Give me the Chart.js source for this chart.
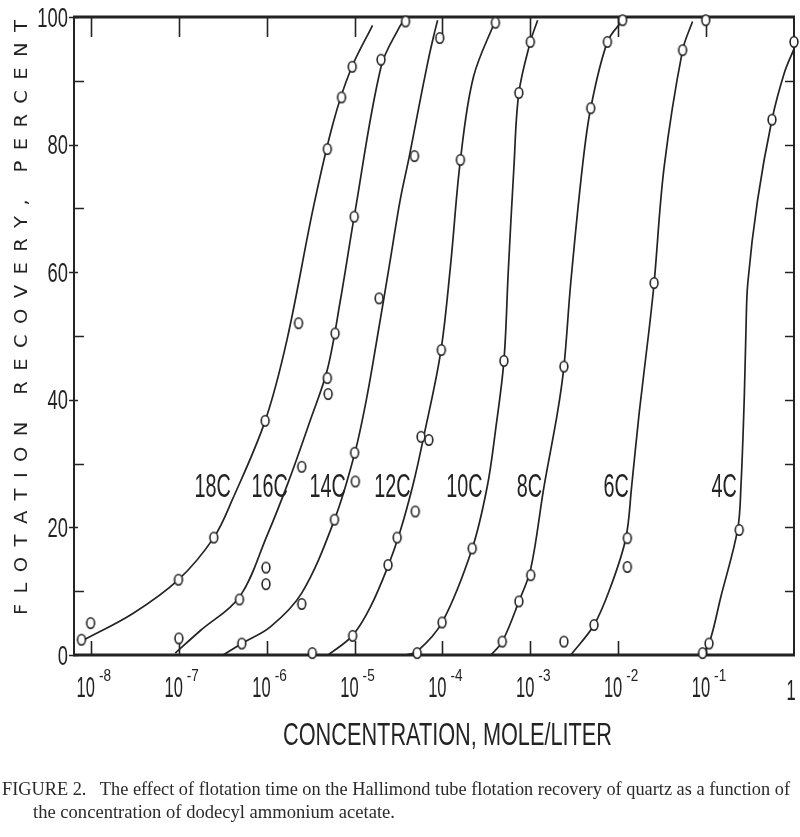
<!DOCTYPE html>
<html>
<head>
<meta charset="utf-8">
<script src="https://cdn.jsdelivr.net/npm/chart.js@4.4.1/dist/chart.umd.min.js"></script>
<style>
  html, body { margin: 0; padding: 0; background: #fff; }
  #wrap { position: relative; width: 800px; height: 837px; overflow: hidden; background: #fff; }
  #chart { position: absolute; left: 0; top: 0; }
  .cap { position: absolute; font-family: "Liberation Serif", "DejaVu Serif", serif; font-size: 19px; line-height: 19px; color: #2a2a2a; white-space: pre; transform-origin: 0 0; }
</style>
</head>
<body>
<div id="wrap">
  <canvas id="chart" width="800" height="837"></canvas>
  <div class="cap" id="cap1" style="left:2px; top:779px;">FIGURE 2.   The effect of flotation time on the Hallimond tube flotation recovery of quartz as a function of</div>
  <div class="cap" id="cap2" style="left:33px; top:802px;">the concentration of dodecyl ammonium acetate.</div>
</div>
<script>
(function() {
	'use strict';

	// Series labels (carbon chain length of the amine)
	const seriesNames = ['18C', '16C', '14C', '12C', '10C', '8C', '6C', '4C'];

	// Measured points: [concentration mole/liter, recovery %]
	const pts18C = [[7.8e-9, 2.4], [9.9e-9, 5.0], [9.9e-8, 11.8], [2.5e-7, 18.4], [9.6e-7, 36.7], [2.3e-6, 52.0], [4.9e-6, 79.3], [7.1e-6, 87.4], [9.4e-6, 92.2]];
	const pts16C = [[1.0e-7, 2.6], [4.9e-7, 8.7], [9.8e-7, 13.7], [9.8e-7, 11.1], [2.5e-6, 29.5], [4.9e-6, 43.4], [5.0e-6, 40.9], [6.0e-6, 50.4], [9.9e-6, 68.7], [2.0e-5, 93.3], [3.8e-5, 99.3]];
	const pts14C = [[5.2e-7, 1.8], [2.5e-6, 8.0], [5.9e-6, 21.2], [1.0e-5, 31.7], [1.02e-5, 27.2], [1.9e-5, 55.9], [4.8e-5, 78.2], [9.3e-5, 96.7]];
	const pts12C = [[3.3e-6, 0.3], [9.5e-6, 3.0], [2.4e-5, 14.1], [3.05e-5, 18.4], [4.9e-5, 22.5], [5.7e-5, 34.2], [7.0e-5, 33.7], [9.7e-5, 47.8], [1.6e-4, 77.6], [4.0e-4, 99.1]];
	const pts10C = [[5.15e-5, 0.3], [9.9e-5, 5.1], [2.18e-4, 16.7], [5.0e-4, 46.1], [7.4e-4, 88.1], [1.0e-3, 96.1]];
	const pts8C = [[4.79e-4, 2.1], [7.41e-4, 8.4], [1.01e-3, 12.5], [2.41e-3, 45.2], [4.86e-3, 85.7], [7.53e-3, 96.1], [1.12e-2, 99.5]];
	const pts6C = [[2.41e-3, 2.1], [5.3e-3, 4.7], [1.27e-2, 18.3], [1.27e-2, 13.8], [2.56e-2, 58.3], [5.4e-2, 94.8], [9.9e-2, 99.5]];
	const pts4C = [[9.1e-2, 0.3], [0.108, 1.8], [0.238, 19.6], [0.561, 83.9], [1.0, 96.1]];

	// Hand-drawn curves: [concentration, recovery %]
	const fit18C = [[7.9e-9, 2.2], [3.0e-8, 6.5], [9.9e-8, 11.8], [2.5e-7, 18.4], [4.05e-7, 24.3], [9.6e-7, 36.7], [1.7e-6, 49.4], [3.4e-6, 70.2], [5.7e-6, 83.4], [9.0e-6, 91.7], [1.6e-5, 98.7]];
	const fit16C = [[9.1e-8, 0.3], [1.75e-7, 3.8], [4.9e-7, 9.1], [1.0e-6, 18.6], [1.76e-6, 27.1], [3.13e-6, 36.8], [4.89e-6, 44.7], [6.89e-6, 55.6], [9.9e-6, 68.7], [2.0e-5, 92.2], [3.2e-5, 98.3], [3.8e-5, 99.8]];
	const fit14C = [[3.2e-7, 0], [5.2e-7, 1.8], [1.1e-6, 4.4], [2.5e-6, 9.7], [5.9e-6, 21.2], [9.9e-6, 31.3], [1.36e-5, 40.0], [1.87e-5, 50.9], [2.49e-5, 61.1], [3.3e-5, 71.3], [4.2e-5, 78.2], [5.3e-5, 85.4], [6.8e-5, 92.9], [7.9e-5, 96.9], [8.8e-5, 99.5]];
	const fit12C = [[5.0e-6, 0], [9.4e-6, 3.0], [1.51e-5, 7.5], [2.43e-5, 14.1], [3.32e-5, 19.5], [4.68e-5, 27.0], [6.07e-5, 34.0], [9.5e-5, 47.3], [1.23e-4, 60.8], [1.6e-4, 77.6], [2.25e-4, 90.6], [4.0e-4, 99.5]];
	const fit10C = [[3.8e-5, 0], [5.2e-5, 0.6], [9.9e-5, 5.1], [2.18e-4, 16.7], [3.23e-4, 26.4], [4.02e-4, 35.3], [5.0e-4, 46.1], [5.6e-4, 60.0], [6.5e-4, 76.5], [7.4e-4, 88.1], [1.0e-3, 96.1], [1.21e-3, 99.5]];
	const fit8C = [[3.56e-4, 0], [4.79e-4, 2.1], [7.41e-4, 8.4], [1.01e-3, 13.5], [1.43e-3, 26.4], [2.03e-3, 37.9], [2.41e-3, 45.2], [2.88e-3, 58.3], [3.91e-3, 76.5], [4.86e-3, 85.7], [7.53e-3, 96.1], [1.12e-2, 99.5]];
	const fit6C = [[2.88e-3, 0], [5.3e-3, 4.7], [8.2e-3, 10.7], [1.22e-2, 18.3], [1.42e-2, 26.4], [1.73e-2, 37.9], [2.24e-2, 50.9], [2.56e-2, 58.3], [3.33e-2, 76.5], [5.4e-2, 94.8], [7.0e-2, 99.3]];
	const fit4C = [[8.7e-2, 0], [0.108, 1.8], [0.147, 9.1], [0.228, 19.6], [0.249, 26.4], [0.272, 40.5], [0.284, 50.9], [0.298, 58.3], [0.385, 71.3], [0.561, 83.9], [0.774, 91.2], [1.0, 95.0]];

	// Axis ticks
	const xDecades = [-8, -7, -6, -5, -4, -3, -2, -1];
	const yTickLabels = [0, 20, 40, 60, 80, 100];
	const yMinorTicks = [10, 30, 50, 70, 90];

	const allPts = [pts18C, pts16C, pts14C, pts12C, pts10C, pts8C, pts6C, pts4C];
	const allFits = [fit18C, fit16C, fit14C, fit12C, fit10C, fit8C, fit6C, fit4C];

	const ink = '#232323';

	// Curve labels placed in data units (concentration, %)
	const labelAnchors = [[2.43e-7, 26.6], [1.08e-6, 26.6], [4.93e-6, 26.6], [2.7e-5, 26.6], [1.78e-4, 26.6], [9.75e-4, 26.6], [9.48e-3, 26.6], [0.16, 26.6]];

	function ringImage() {
		const c = document.createElement('canvas');
		c.width = 12;
		c.height = 14;
		const g = c.getContext('2d');
		g.fillStyle = '#fff';
		g.strokeStyle = ink;
		g.lineWidth = 1.6;
		g.beginPath();
		g.ellipse(6, 7, 3.9, 5.2, 0, 0, Math.PI * 2);
		g.fill();
		g.stroke();
		return c;
	}

	function toXY(arr) {
		return arr.map(function(p) { return { x: p[0], y: p[1] }; });
	}

	// Draw text squeezed horizontally to mimic the narrow lettering
	function drawText(ctx, text, x, y, font, sx, align, baseline) {
		ctx.save();
		ctx.font = font;
		ctx.textBaseline = baseline || 'alphabetic';
		ctx.textAlign = 'left';
		const w = ctx.measureText(text).width * sx;
		let x0 = x;
		if (align === 'right') x0 = x - w;
		else if (align === 'center') x0 = x - w / 2;
		ctx.translate(x0, y);
		ctx.scale(sx, 1);
		ctx.fillText(text, 0, 0);
		ctx.restore();
		return w;
	}

	const ring = ringImage();
	const datasets = [];

	allFits.forEach(function(fit, i) {
		datasets.push({
			label: seriesNames[i] + ' curve',
			data: toXY(fit),
			showLine: true,
			borderColor: ink,
			borderWidth: 1.7,
			pointRadius: 0,
			tension: 0.35,
			fill: false,
			order: 2
		});
	});
	allPts.forEach(function(pts, i) {
		datasets.push({
			label: seriesNames[i],
			data: toXY(pts),
			showLine: false,
			pointStyle: ring,
			pointRadius: 5,
			clip: false,
			order: 1
		});
	});

	const paperAxes = {
		id: 'paperAxes',
		beforeDatasetsDraw(chart) {
			const ctx = chart.ctx;
			const a = chart.chartArea;
			const xs = chart.scales.x;
			const ys = chart.scales.y;
			ctx.save();
			ctx.strokeStyle = ink;
			ctx.lineCap = 'butt';

			// frame
			ctx.lineWidth = 2;
			ctx.beginPath();
			ctx.moveTo(a.left, a.top - 1);
			ctx.lineTo(a.left, a.bottom + 1);
			ctx.moveTo(a.right, a.top - 1);
			ctx.lineTo(a.right, a.bottom + 1);
			ctx.stroke();
			ctx.lineWidth = 3;
			ctx.beginPath();
			ctx.moveTo(a.left - 1, a.top);
			ctx.lineTo(a.right + 1, a.top);
			ctx.moveTo(a.left - 1, a.bottom);
			ctx.lineTo(a.right + 1, a.bottom);
			ctx.stroke();

			// decade ticks, inside at bottom and top
			ctx.lineWidth = 1.6;
			ctx.beginPath();
			xDecades.forEach(function(k) {
				const px = Math.round(xs.getPixelForValue(Math.pow(10, k))) + 0.5;
				ctx.moveTo(px, a.bottom);
				ctx.lineTo(px, a.bottom - 14);
				ctx.moveTo(px, a.top);
				ctx.lineTo(px, a.top + 20);
			});
			// left ticks
			yTickLabels.forEach(function(v) {
				const py = Math.round(ys.getPixelForValue(v)) + 0.5;
				ctx.moveTo(a.left - 5, py);
				ctx.lineTo(a.left + 4, py);
			});
			yMinorTicks.forEach(function(v) {
				const py = Math.round(ys.getPixelForValue(v)) + 0.5;
				ctx.moveTo(a.left, py);
				ctx.lineTo(a.left + 10, py);
			});
			// right ticks every 10
			yTickLabels.concat(yMinorTicks).forEach(function(v) {
				if (v === 0 || v === 100) return;
				const py = Math.round(ys.getPixelForValue(v)) + 0.5;
				ctx.moveTo(a.right - 9, py);
				ctx.lineTo(a.right, py);
			});
			ctx.stroke();
			ctx.restore();
		},
		afterDraw(chart) {
			const ctx = chart.ctx;
			const a = chart.chartArea;
			const xs = chart.scales.x;
			const ys = chart.scales.y;
			ctx.save();
			ctx.fillStyle = ink;

			// y tick labels
			yTickLabels.forEach(function(v) {
				const py = ys.getPixelForValue(v);
				drawText(ctx, String(v), a.left - 6, py + 9.5, '27px "Liberation Sans", Arial, sans-serif', 0.68, 'right');
			});

			// x tick labels as 10 with raised exponent
			xDecades.forEach(function(k) {
				const px = xs.getPixelForValue(Math.pow(10, k));
				drawText(ctx, '10', px + 4, 697, '30px "Liberation Sans", Arial, sans-serif', 0.55, 'right');
				drawText(ctx, '-' + (-k), px + 8, 681, '17px "Liberation Sans", Arial, sans-serif', 0.8, 'left');
			});
			drawText(ctx, '1', xs.getPixelForValue(1) - 3, 700, '30px "Liberation Sans", Arial, sans-serif', 0.55, 'center');

			// curve labels
			labelAnchors.forEach(function(p, i) {
				const px = xs.getPixelForValue(p[0]);
				const py = ys.getPixelForValue(p[1]);
				drawText(ctx, seriesNames[i], px, py + 12, '33px "Liberation Sans", Arial, sans-serif', 0.6, 'center');
			});

			// x axis title, stretched to its printed width
			ctx.font = '32px "Liberation Sans", Arial, sans-serif';
			const xt = 'CONCENTRATION, MOLE/LITER';
			const sxT = 329 / ctx.measureText(xt).width;
			drawText(ctx, xt, 283, 745, ctx.font, sxT, 'left');

			// y axis title, widely letter spaced
			const yt = 'FLOTATION RECOVERY, PERCENT';
			ctx.translate(22.5, 615);
			ctx.rotate(-Math.PI / 2);
			ctx.font = '17px "DejaVu Sans", sans-serif';
			ctx.textBaseline = 'middle';
			const sy = 1.15;
			const chars = yt.split('');
			const widths = chars.map(function(c) { return ctx.measureText(c).width * sy; });
			const sum = widths.reduce(function(s, w) { return s + w; }, 0);
			const gap = (595 - sum) / (chars.length - 1);
			let x = 0;
			chars.forEach(function(c, i) {
				ctx.save();
				ctx.translate(x, 0);
				ctx.scale(sy, 1);
				ctx.fillText(c, 0, 0);
				ctx.restore();
				x += widths[i] + gap;
			});
			ctx.restore();
		}
	};

	const canvas = document.getElementById('chart');
	new Chart(canvas.getContext('2d'), {
		type: 'scatter',
		data: { datasets: datasets },
		options: {
			responsive: false,
			animation: false,
			devicePixelRatio: 1,
			layout: { padding: { left: 74, top: 17, right: 5, bottom: 182 } },
			plugins: {
				legend: { display: false },
				tooltip: { enabled: false },
				title: { display: false }
			},
			scales: {
				x: { type: 'logarithmic', min: Math.pow(10, -8.193), max: 1, display: false },
				y: { type: 'linear', min: 0, max: 100, display: false }
			}
		},
		plugins: [paperAxes]
	});

	// squeeze caption lines to their printed widths
	function fitCaption(id, target) {
		const el = document.getElementById(id);
		const w = el.getBoundingClientRect().width;
		if (w > 0) el.style.transform = 'scaleX(' + (target / w) + ')';
	}
	fitCaption('cap1', 788);
	fitCaption('cap2', 362);
})();
</script>
</body>
</html>
